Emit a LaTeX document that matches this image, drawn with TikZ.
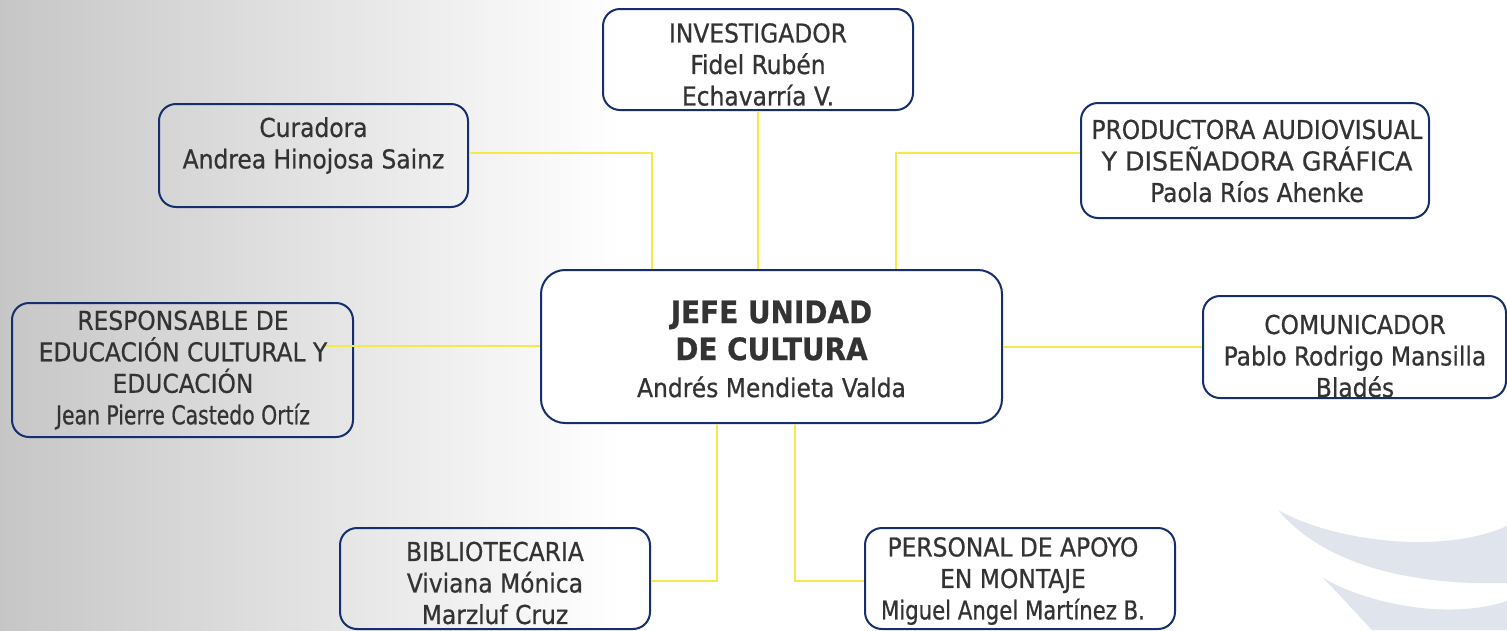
\documentclass[tikz,border=0pt]{standalone}
\usepackage{fontspec}
\setmainfont{DejaVu Sans Condensed}
\newfontfamily\boxfont{DejaVu Sans Condensed}[FakeBold=0.6]
\usepackage{graphicx}
\definecolor{navy}{RGB}{20,46,110}
\definecolor{conn}{RGB}{246,232,70}
\definecolor{txtgray}{RGB}{51,51,51}
\definecolor{swoosh}{RGB}{224,228,236}
\definecolor{bgleft}{RGB}{198,198,198}
\newcommand{\fitw}[2]{\resizebox{#1pt}{\height}{#2}}
\begin{document}
\begin{tikzpicture}[x=1pt,y=-1pt,
  box/.style={draw=navy, line width=2pt, rounded corners=17pt, inner sep=0pt},
  txt/.style={font=\boxfont\fontsize{26}{31.5}\selectfont, text=txtgray, align=center, inner sep=0pt},
  link/.style={draw=conn, line width=2pt}]
% background
\useasboundingbox (0,0) rectangle (1507,630);
\fill[white] (0,0) rectangle (1507,630);
\shade[left color=bgleft, right color=white] (0,0) rectangle (620,630);
% swooshes
\fill[swoosh] (1278,510) .. controls (1330,540) and (1440,556) .. (1507,526)
  -- (1507,583) .. controls (1400,586) and (1320,560) .. (1278,510) -- cycle;
\fill[swoosh] (1323,578) .. controls (1370,605) and (1450,620) .. (1507,601)
  -- (1507,630) -- (1372,630) .. controls (1355,612) and (1340,595) .. (1323,578) -- cycle;
% boxes
\node[box, minimum width=310pt, minimum height=101pt] (inv) at (758,59.5) {};
\node[box, minimum width=309pt, minimum height=103pt] (cur) at (313.5,155.5) {};
\node[box, minimum width=348pt, minimum height=115pt] (prod) at (1255,160.5) {};
\node[box, fill=white, rounded corners=24pt, minimum width=461pt, minimum height=153pt] (ctr) at (771.5,346.5) {};
\node[box, minimum width=341pt, minimum height=134pt] (resp) at (182.5,370) {};
\node[box, minimum width=303pt, minimum height=102pt] (com) at (1354.5,347) {};
\node[box, minimum width=310pt, minimum height=101pt] (bib) at (495,578.5) {};
\node[box, minimum width=310pt, minimum height=101pt] (pers) at (1020,578.5) {};
% connectors
\coordinate (rs) at (321,346);
\draw[link] ([yshift=2.5pt]cur.east) -| ([xshift=-119.5pt]ctr.north);
\draw[link] (inv.south) -- (inv.south |- ctr.north);
\draw[link] ([yshift=7.5pt]prod.west) -| ([xshift=124.5pt]ctr.north);
\draw[link] (rs) -- (rs -| ctr.west);
\draw[link] (ctr.east) -- (ctr.east -| com.west);
\draw[link] ([xshift=-54.5pt]ctr.south) |- ([yshift=-2.5pt]bib.east);
\draw[link] ([xshift=23.5pt]ctr.south) |- ([yshift=-2.5pt]pers.west);
% texts
\node[txt] (tinv) at (758,64.5) {INVESTIGADOR\\Fidel Rubén\\Echavarría V.};
\node[txt] (tcur) at (313.5,145.5) {Curadora\\Andrea Hinojosa Sainz};
\node[txt] (tprod) at (1257,161) {\fitw{331}{PRODUCTORA AUDIOVISUAL}\\\fitw{311}{Y DISEÑADORA GRÁFICA}\\Paola Ríos Ahenke};
\node[txt, font=\boxfont\fontsize{31}{37}\selectfont\bfseries] (tctr) at (771.5,349) {JEFE UNIDAD\\DE CULTURA\\{\fontsize{26}{37}\selectfont\mdseries Andrés Mendieta Valda}};
\node[txt] (tresp) at (183,370) {RESPONSABLE DE\\EDUCACIÓN CULTURAL Y\\EDUCACIÓN\\\fitw{254}{Jean Pierre Castedo Ortíz}};
\node[txt] (tcom) at (1355,356) {COMUNICADOR\\Pablo Rodrigo Mansilla\\Bladés};
\node[txt] (tbib) at (495,583) {BIBLIOTECARIA\\Viviana Mónica\\Marzluf Cruz};
\node[txt] (tpers) at (1013,581) {PERSONAL DE APOYO\\EN MONTAJE\\\fitw{264}{Miguel Angel Martínez B.}};
\end{tikzpicture}
\end{document}
